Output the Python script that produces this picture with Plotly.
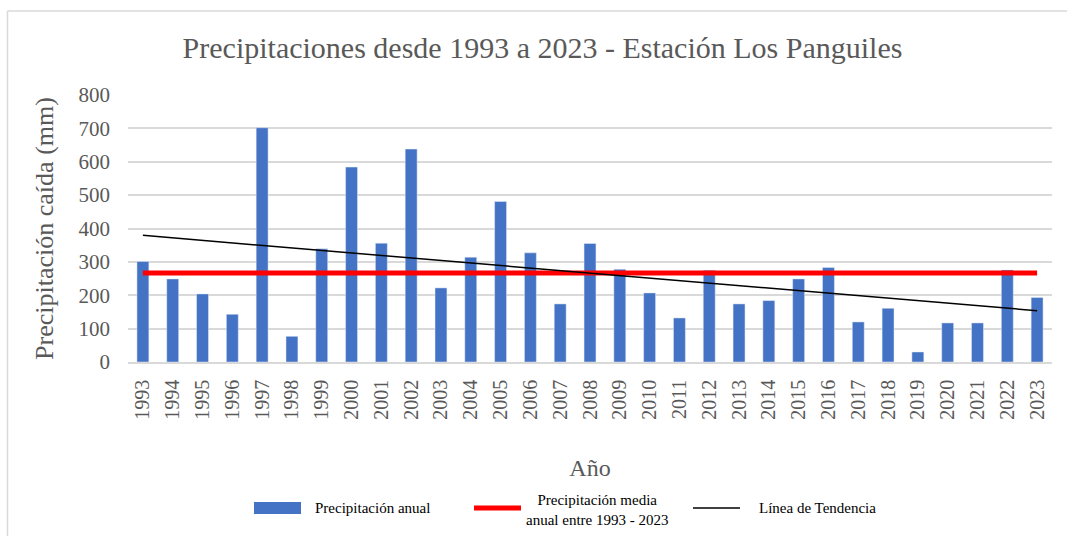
import numpy as np
import plotly.graph_objects as go

# Annual precipitation (mm), Los Panguiles station
years = list(range(1993, 2024))
precip_mm = [301, 249, 204, 143, 702, 77, 339, 584, 356, 638,
             222, 314, 481, 327, 174, 355, 278, 207, 132, 275,
             174, 184, 249, 283, 120, 161, 30, 117, 117, 276, 193]
y_ticks = [0, 100, 200, 300, 400, 500, 600, 700, 800]

title_text = "Precipitaciones desde 1993 a 2023 - Estación Los Panguiles"
x_title = "Año"
y_title = "Precipitación caída (mm)"
legend_labels = ["Precipitación anual",
                 "Precipitación media<br>anual entre 1993 - 2023",
                 "Línea de Tendencia"]

BAR_COLOR = "#4472C4"
MEAN_COLOR = "#FF0000"
TREND_COLOR = "#000000"
TEXT_COLOR = "#595959"
GRID_COLOR = "#D9D9D9"
FONT = "Liberation Serif, Times New Roman, serif"

W, H = 1067, 536
M_L, M_R, M_T, M_B = 128, 15, 95, 174
PW, PH = W - M_L - M_R, H - M_T - M_B

def px_x(px):
    return (px - M_L) / PW

def px_y(py):
    return (H - M_B - py) / PH

# Mean over the period and least-squares trend
mean_val = float(np.mean(precip_mm))
slope, intercept = np.polyfit(years, precip_mm, 1)
trend_ends = [slope * years[0] + intercept, slope * years[-1] + intercept]

fig = go.Figure()
fig.add_trace(go.Bar(x=years, y=precip_mm, marker_color=BAR_COLOR,
                     width=0.4, name=legend_labels[0], showlegend=False))
fig.add_trace(go.Scatter(x=[years[0], years[-1]], y=[mean_val, mean_val],
                         mode="lines", line=dict(color=MEAN_COLOR, width=5),
                         name="Precipitación media", showlegend=False))
fig.add_trace(go.Scatter(x=[years[0], years[-1]], y=trend_ends,
                         mode="lines", line=dict(color=TREND_COLOR, width=1.5),
                         name=legend_labels[2], showlegend=False))

shapes = [
    # outer chart border (left and top edges)
    dict(type="line", xref="paper", yref="paper",
         x0=px_x(7.5), x1=px_x(7.5), y0=px_y(11), y1=px_y(540),
         line=dict(color="#D9D9D9", width=1.5)),
    dict(type="line", xref="paper", yref="paper",
         x0=px_x(7.5), x1=px_x(1070), y0=px_y(11), y1=px_y(11),
         line=dict(color="#D9D9D9", width=1.5)),
    # legend keys
    dict(type="rect", xref="paper", yref="paper",
         x0=px_x(254), x1=px_x(301), y0=px_y(502), y1=px_y(514),
         fillcolor=BAR_COLOR, line=dict(width=0)),
    dict(type="line", xref="paper", yref="paper",
         x0=px_x(474), x1=px_x(521), y0=px_y(508), y1=px_y(508),
         line=dict(color=MEAN_COLOR, width=5)),
    dict(type="line", xref="paper", yref="paper",
         x0=px_x(693), x1=px_x(740), y0=px_y(508), y1=px_y(508),
         line=dict(color=TREND_COLOR, width=1.5)),
]

legend_font = dict(family=FONT, size=15, color="#000000")
annotations = [
    dict(text=legend_labels[0], xref="paper", yref="paper",
         x=px_x(313), y=px_y(508), xanchor="left", yanchor="middle",
         showarrow=False, font=legend_font),
    dict(text=legend_labels[1], xref="paper", yref="paper",
         x=px_x(597), y=px_y(510), xanchor="center", yanchor="middle",
         align="center", showarrow=False, font=legend_font),
    dict(text=legend_labels[2], xref="paper", yref="paper",
         x=px_x(757), y=px_y(508), xanchor="left", yanchor="middle",
         showarrow=False, font=legend_font),
]

fig.update_layout(
    width=W, height=H,
    margin=dict(l=M_L, r=M_R, t=M_T, b=M_B),
    paper_bgcolor="white", plot_bgcolor="white",
    font=dict(family=FONT, color=TEXT_COLOR),
    title=dict(text=title_text, x=542.5 / W, xanchor="center", y=1 - 47 / H,
               yanchor="middle", font=dict(family=FONT, size=30, color=TEXT_COLOR)),
    bargap=0.6,
    shapes=shapes,
    annotations=annotations,
    xaxis=dict(
        range=[years[0] - 0.5, years[-1] + 0.5],
        tickmode="array", tickvals=years, ticktext=[str(y) for y in years],
        tickangle=-90, tickfont=dict(family=FONT, size=20, color=TEXT_COLOR),
        showgrid=False, zeroline=False,
        showline=True, linecolor=GRID_COLOR, linewidth=1.5,
        ticks="", ticklabelstandoff=8,
        title=dict(text=x_title, font=dict(family=FONT, size=24, color=TEXT_COLOR),
                   standoff=40),
    ),
    yaxis=dict(
        range=[0, 800], tickmode="array", tickvals=y_ticks,
        tickfont=dict(family=FONT, size=21, color=TEXT_COLOR),
        showgrid=True, gridcolor=GRID_COLOR, gridwidth=1.5,
        zeroline=False, showline=False, ticks="", ticklabelstandoff=17,
        title=dict(text=y_title, font=dict(family=FONT, size=26, color=TEXT_COLOR),
                   standoff=17),
    ),
)

fig.write_html("out.html")
